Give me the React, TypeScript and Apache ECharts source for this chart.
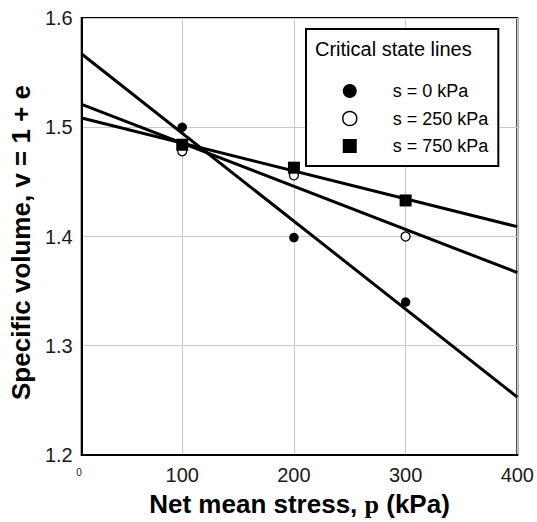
import React, { useEffect, useRef } from "react";
import * as echarts from "echarts";

// Critical state lines (end points of each fitted line, p in kPa)
const lineX = [10, 400];
const lineS0 = [1.567, 1.253];
const lineS250 = [1.521, 1.367];
const lineS750 = [1.5085, 1.409];

// Measured points
const pointX = [100, 200, 300];
const pointsS0 = [1.5, 1.399, 1.34];
const pointsS250 = [1.478, 1.456, 1.4];
const pointsS750 = [1.484, 1.463, 1.433];

const xTicks = [100, 200, 300, 400];
const seriesNames = ["s = 0 kPa", "s = 250 kPa", "s = 750 kPa"];

const FONT = "'Liberation Sans', Arial, sans-serif";

function pairs(xs: number[], ys: number[]) {
  return xs.map((x, i) => [x, ys[i]]);
}

export default function App() {
  const ref = useRef<HTMLDivElement>(null);

  useEffect(() => {
    if (!ref.current) return;
    const chart = echarts.init(ref.current, undefined, { renderer: "svg" });
    const lineStyle = { color: "#000", width: 3 };
    const option: any = {
      animation: false,
      textStyle: { fontFamily: FONT },
      grid: {
        left: 77,
        right: 19,
        top: 18,
        bottom: 61,
        show: true,
        borderColor: "#000",
        borderWidth: 2,
        backgroundColor: "#fff",
      },
      xAxis: {
        type: "value",
        min: 10,
        max: 400,
        name: "Net mean stress, {p|p} (kPa)",
        nameLocation: "middle",
        nameGap: 36,
        nameTextStyle: {
          fontSize: 26,
          fontWeight: "bold",
          color: "#000",
          fontFamily: FONT,
          rich: {
            p: {
              fontSize: 26,
              fontWeight: "bold",
              color: "#000",
              fontFamily: "'Liberation Serif', 'Times New Roman', serif",
            },
          },
        },
        axisLine: { show: true, lineStyle: { color: "#000", width: 2 } },
        axisTick: { show: false, customValues: xTicks },
        axisLabel: {
          customValues: xTicks,
          fontSize: 20,
          color: "#1a1a1a",
          margin: 10,
        },
        splitLine: { show: true, lineStyle: { color: "#c8c8c8", width: 1 } },
      },
      yAxis: {
        type: "value",
        min: 1.2,
        max: 1.6,
        interval: 0.1,
        name: "Specific volume, v = 1 + e",
        nameLocation: "middle",
        nameGap: 44,
        nameTextStyle: {
          fontSize: 26,
          fontWeight: "bold",
          color: "#000",
          fontFamily: FONT,
          padding: [0, 12, 0, 0],
        },
        axisLine: { show: true, lineStyle: { color: "#000", width: 2 } },
        axisTick: { show: false },
        axisLabel: {
          fontSize: 20,
          color: "#1a1a1a",
          margin: 9,
          formatter: (v: number) => v.toFixed(1),
        },
        splitLine: { show: true, lineStyle: { color: "#c8c8c8", width: 1 } },
      },
      legend: {
        orient: "vertical",
        left: 306,
        top: 29,
        itemWidth: 14,
        itemHeight: 14,
        itemGap: 9.5,
        padding: [53, 10, 11, 36],
        borderColor: "#000",
        borderWidth: 2,
        backgroundColor: "#fff",
        textStyle: {
          fontSize: 18,
          color: "#000",
          fontFamily: FONT,
          lineHeight: 14,
          padding: [0, 0, 0, 31],
        },
        data: [
          { name: seriesNames[0], icon: "circle", itemStyle: { color: "#000", opacity: 1 } },
          {
            name: seriesNames[1],
            icon: "circle",
            itemStyle: { color: "#fff", borderColor: "#000", borderWidth: 1.5, opacity: 1 },
          },
          { name: seriesNames[2], icon: "rect", itemStyle: { color: "#000", opacity: 1 } },
        ],
      },
      graphic: [
        {
          type: "text",
          z: 100,
          style: {
            x: 315,
            y: 49,
            text: "Critical state lines",
            fontSize: 20,
            fontFamily: FONT,
            fill: "#000",
            align: "left",
            verticalAlign: "middle",
          },
        },
        {
          type: "text",
          z: 100,
          style: {
            x: 79,
            y: 472,
            text: "0",
            fontSize: 10,
            fontFamily: FONT,
            fill: "#222",
            align: "center",
            verticalAlign: "middle",
          },
        },
      ],
      series: [
        {
          name: "CSL " + seriesNames[0],
          type: "line",
          data: pairs(lineX, lineS0),
          showSymbol: false,
          lineStyle,
          z: 2,
          silent: true,
        },
        {
          name: "CSL " + seriesNames[1],
          type: "line",
          data: pairs(lineX, lineS250),
          showSymbol: false,
          lineStyle,
          z: 2,
          silent: true,
        },
        {
          name: "CSL " + seriesNames[2],
          type: "line",
          data: pairs(lineX, lineS750),
          showSymbol: false,
          lineStyle,
          z: 2,
          silent: true,
        },
        {
          name: seriesNames[1],
          type: "scatter",
          data: pairs(pointX, pointsS250),
          symbol: "circle",
          symbolSize: 9,
          itemStyle: { color: "#fff", borderColor: "#000", borderWidth: 1.3, opacity: 1 },
          z: 3,
        },
        {
          name: seriesNames[0],
          type: "scatter",
          data: pairs(pointX, pointsS0),
          symbol: "circle",
          symbolSize: 9.5,
          itemStyle: { color: "#000", opacity: 1 },
          z: 4,
        },
        {
          name: seriesNames[2],
          type: "scatter",
          data: pairs(pointX, pointsS750),
          symbol: "rect",
          symbolSize: 12,
          itemStyle: { color: "#000", opacity: 1 },
          z: 5,
        },
      ],
    };
    chart.setOption(option);
    return () => chart.dispose();
  }, []);

  return (
    <div
      ref={ref}
      style={{ position: "absolute", left: 0, top: 0, width: 537, height: 522, background: "#fff" }}
    />
  );
}
